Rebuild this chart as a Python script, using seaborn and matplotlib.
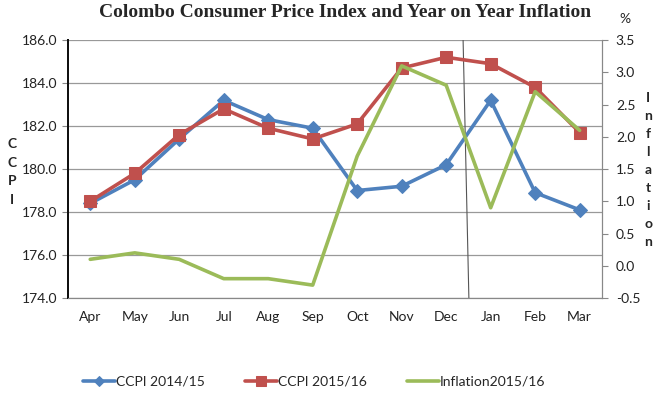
import pandas as pd
import seaborn as sns
from matplotlib import pyplot as plt
from matplotlib.ticker import MultipleLocator, FixedLocator

MONTHS = ['Apr', 'May', 'Jun', 'Jul', 'Aug', 'Sep', 'Oct', 'Nov', 'Dec', 'Jan', 'Feb', 'Mar']
CCPI_2014 = [178.4, 179.5, 181.4, 183.2, 182.3, 181.9, 179.0, 179.2, 180.2, 183.2, 178.9, 178.1]
CCPI_2015 = [178.5, 179.8, 181.6, 182.8, 181.9, 181.4, 182.1, 184.7, 185.2, 184.9, 183.8, 181.7]
INFLATION = [0.1, 0.2, 0.1, -0.2, -0.2, -0.3, 1.7, 3.1, 2.8, 0.9, 2.7, 2.1]

BLUE = '#4f81bd'
RED = '#c0504d'
GREEN = '#9bbb59'


def main():
    sns.set_style('white')
    plt.rcParams['font.family'] = ['Lato', 'DejaVu Sans']

    df = pd.DataFrame({'pos': range(len(MONTHS)), 'Month': MONTHS,
                       'CCPI 2014/15': CCPI_2014, 'CCPI 2015/16': CCPI_2015,
                       'Inflation2015/16': INFLATION})

    fig = plt.figure(figsize=(6.6, 3.93), dpi=100)
    ax = fig.add_axes([0.103, 0.2417, 0.809, 0.6563])
    ax2 = ax.twinx()

    sns.lineplot(data=df, x='pos', y='CCPI 2014/15', ax=ax, color=BLUE, lw=2.6,
                 marker='D', markersize=7, markeredgecolor=BLUE, label='CCPI 2014/15',
                 sort=False, legend=False)
    sns.lineplot(data=df, x='pos', y='CCPI 2015/16', ax=ax, color=RED, lw=2.6,
                 marker='s', markersize=9, markeredgecolor=RED, label='CCPI 2015/16',
                 sort=False, legend=False)
    sns.lineplot(data=df, x='pos', y='Inflation2015/16', ax=ax2, color=GREEN, lw=2.6,
                 label='Inflation2015/16', sort=False, legend=False)

    # divider between calendar years
    ax.plot([8.38, 8.51], [186, 174], color='#555555', lw=0.8, zorder=1)

    ax.set_xlim(-0.5, 11.5)
    ax.set_ylim(174, 186)
    ax2.set_ylim(-0.5, 3.5)
    ax.yaxis.set_major_locator(MultipleLocator(2))
    ax2.yaxis.set_major_locator(MultipleLocator(0.5))
    ax.yaxis.set_major_formatter(plt.FormatStrFormatter('%.1f'))
    ax2.yaxis.set_major_formatter(plt.FormatStrFormatter('%.1f'))
    ax.set_xticks(df['pos'])
    ax.set_xticklabels(MONTHS)
    ax.xaxis.set_minor_locator(FixedLocator([i - 0.5 for i in range(13)]))
    ax.tick_params(axis='x', which='major', length=0, pad=9, labelsize=10, colors='#222222')
    ax.tick_params(axis='x', which='minor', length=4, width=0.8, color='#888888', direction='out')
    ax.tick_params(axis='y', length=4, width=0.8, color='#888888', direction='out',
                   labelsize=10, colors='#222222', pad=4)
    ax2.tick_params(axis='y', length=4, width=0.8, color='#888888', direction='out',
                    labelsize=10, colors='#222222', pad=6)

    ax.grid(axis='y', color='#999999', lw=0.9)
    ax.set_axisbelow(True)
    for a in (ax, ax2):
        a.spines['top'].set_visible(False)
        a.spines['bottom'].set_color('#888888')
        a.spines['right'].set_color('#888888')
        a.spines['left'].set_color('#111111')
        a.spines['left'].set_linewidth(1.4)
        a.set_xlabel('')
        a.set_ylabel('')
    ax2.grid(False)

    fig.text(0.523, 0.968, 'Colombo Consumer Price Index and Year on Year Inflation',
             ha='center', va='center', fontsize=14, fontweight='bold', family='Liberation Serif')
    fig.text(0.018, 0.562, 'C\nC\nP\nI', ha='center', va='center', fontsize=10,
             fontweight='bold', linespacing=1.65)
    fig.text(0.982, 0.567, 'I\nn\nf\nl\na\nt\ni\no\nn', ha='center', va='center',
             fontsize=10, fontweight='bold', linespacing=1.6)
    fig.text(0.947, 0.952, '%', ha='center', va='center', fontsize=10)

    handles = ax.get_lines()[:2] + ax2.get_lines()[:1]
    leg = fig.legend(handles, ['CCPI 2014/15', 'CCPI 2015/16', 'Inflation2015/16'],
                     loc='center', bbox_to_anchor=(0.476, 0.028), ncol=3, frameon=False,
                     fontsize=10, handlelength=2.3, handletextpad=0.05, columnspacing=2.9)
    leg_sizes = [5.5, 7.5, 0]
    for line, ms in zip(leg.get_lines(), leg_sizes):
        line.set_markersize(ms)

    fig.savefig('out.png', dpi=100)


if __name__ == '__main__':
    main()
